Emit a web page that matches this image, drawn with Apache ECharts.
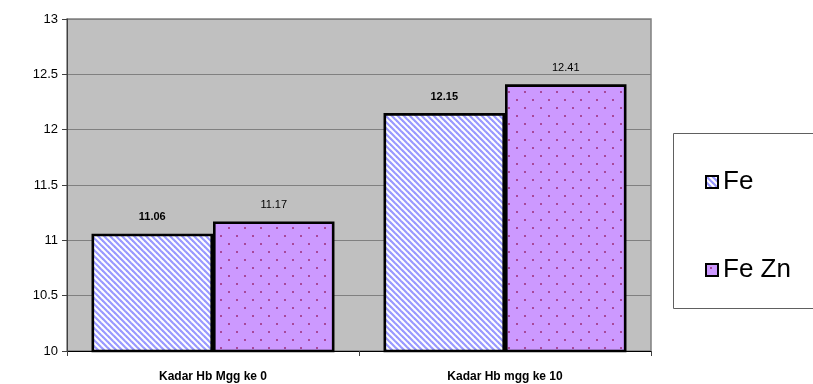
<!DOCTYPE html>
<html><head><meta charset="utf-8">
<script src="https://cdn.jsdelivr.net/npm/echarts@6/dist/echarts.min.js"></script>
<style>html,body{margin:0;padding:0;background:#fff}#c{width:813px;height:384px}</style>
</head><body><div id="c"></div>
<script>
var categories = ['Kadar Hb Mgg ke 0', 'Kadar Hb mgg ke 10'];
var feValues = [11.06, 12.15];
var feZnValues = [11.17, 12.41];
var seriesNames = ['Fe', 'Fe Zn'];
var yTicks = [10, 10.5, 11, 11.5, 12, 12.5, 13];

function stripePattern() {
  var c = document.createElement('canvas');
  c.width = 6; c.height = 6;
  var g = c.getContext('2d');
  g.fillStyle = '#ffffff'; g.fillRect(0, 0, 6, 6);
  g.strokeStyle = '#9999ff'; g.lineWidth = 2.2;
  for (var k = -2; k <= 2; k++) {
    g.beginPath(); g.moveTo(k * 6 - 3, -3); g.lineTo(k * 6 + 9, 9); g.stroke();
  }
  return c;
}
function dotPattern() {
  var c = document.createElement('canvas');
  c.width = 16; c.height = 16;
  var g = c.getContext('2d');
  g.fillStyle = '#cc99ff'; g.fillRect(0, 0, 16, 16);
  g.fillStyle = '#a8489a';
  g.fillRect(4, 3, 2, 2);
  g.fillRect(12, 11, 2, 2);
  return c;
}

var legendText = { fontFamily: 'Arial, Liberation Sans', fontSize: 26, lineHeight: 30, color: '#000' };
var chart = echarts.init(document.getElementById('c'));
chart.setOption({
  animation: false,
  grid: { left: 67, right: 162, top: 19, bottom: 33, show: true, backgroundColor: '#c0c0c0', borderColor: '#808080', borderWidth: 1.5 },
  legend: [
    { left: 700, top: 162, itemWidth: 12, itemHeight: 12, itemGap: 5, icon: 'rect', textStyle: legendText, data: [seriesNames[0]] },
    { left: 700, top: 250, itemWidth: 12, itemHeight: 12, itemGap: 5, icon: 'rect', textStyle: legendText, data: [seriesNames[1]] }
  ],
  graphic: [{ type: 'rect', shape: { x: 673.5, y: 133.5, width: 145, height: 175 }, style: { fill: 'none', stroke: '#606060', lineWidth: 1 } }],
  xAxis: {
    type: 'category', data: categories,
    axisLine: { lineStyle: { color: '#000' } },
    axisTick: { show: true, length: 5, lineStyle: { color: '#404040' } },
    axisLabel: { fontFamily: 'Arial, Liberation Sans', fontWeight: 'bold', fontSize: 12, color: '#000', margin: 20 }
  },
  yAxis: {
    type: 'value', min: yTicks[0], max: yTicks[yTicks.length - 1], interval: 0.5,
    axisLine: { show: true, lineStyle: { color: '#404040' } },
    axisTick: { show: true, length: 5, lineStyle: { color: '#404040' } },
    splitLine: { lineStyle: { color: '#808080', width: 1 } },
    axisLabel: { fontFamily: 'Arial, Liberation Sans', fontSize: 13, color: '#000', margin: 9 }
  },
  series: [
    {
      name: seriesNames[0], type: 'bar', data: feValues, barGap: '0%', barCategoryGap: '16.8%',
      itemStyle: { color: { image: stripePattern(), repeat: 'repeat' }, borderColor: '#000', borderWidth: 2.6 },
      label: { show: true, position: 'top', distance: 11, fontFamily: 'Arial, Liberation Sans', fontWeight: 'bold', fontSize: 11, color: '#000' }
    },
    {
      name: seriesNames[1], type: 'bar', data: feZnValues,
      itemStyle: { color: { image: dotPattern(), repeat: 'repeat' }, borderColor: '#000', borderWidth: 2.6 },
      label: { show: true, position: 'top', distance: 11, fontFamily: 'Arial, Liberation Sans', fontSize: 11, color: '#000' }
    }
  ]
});
</script></body></html>
